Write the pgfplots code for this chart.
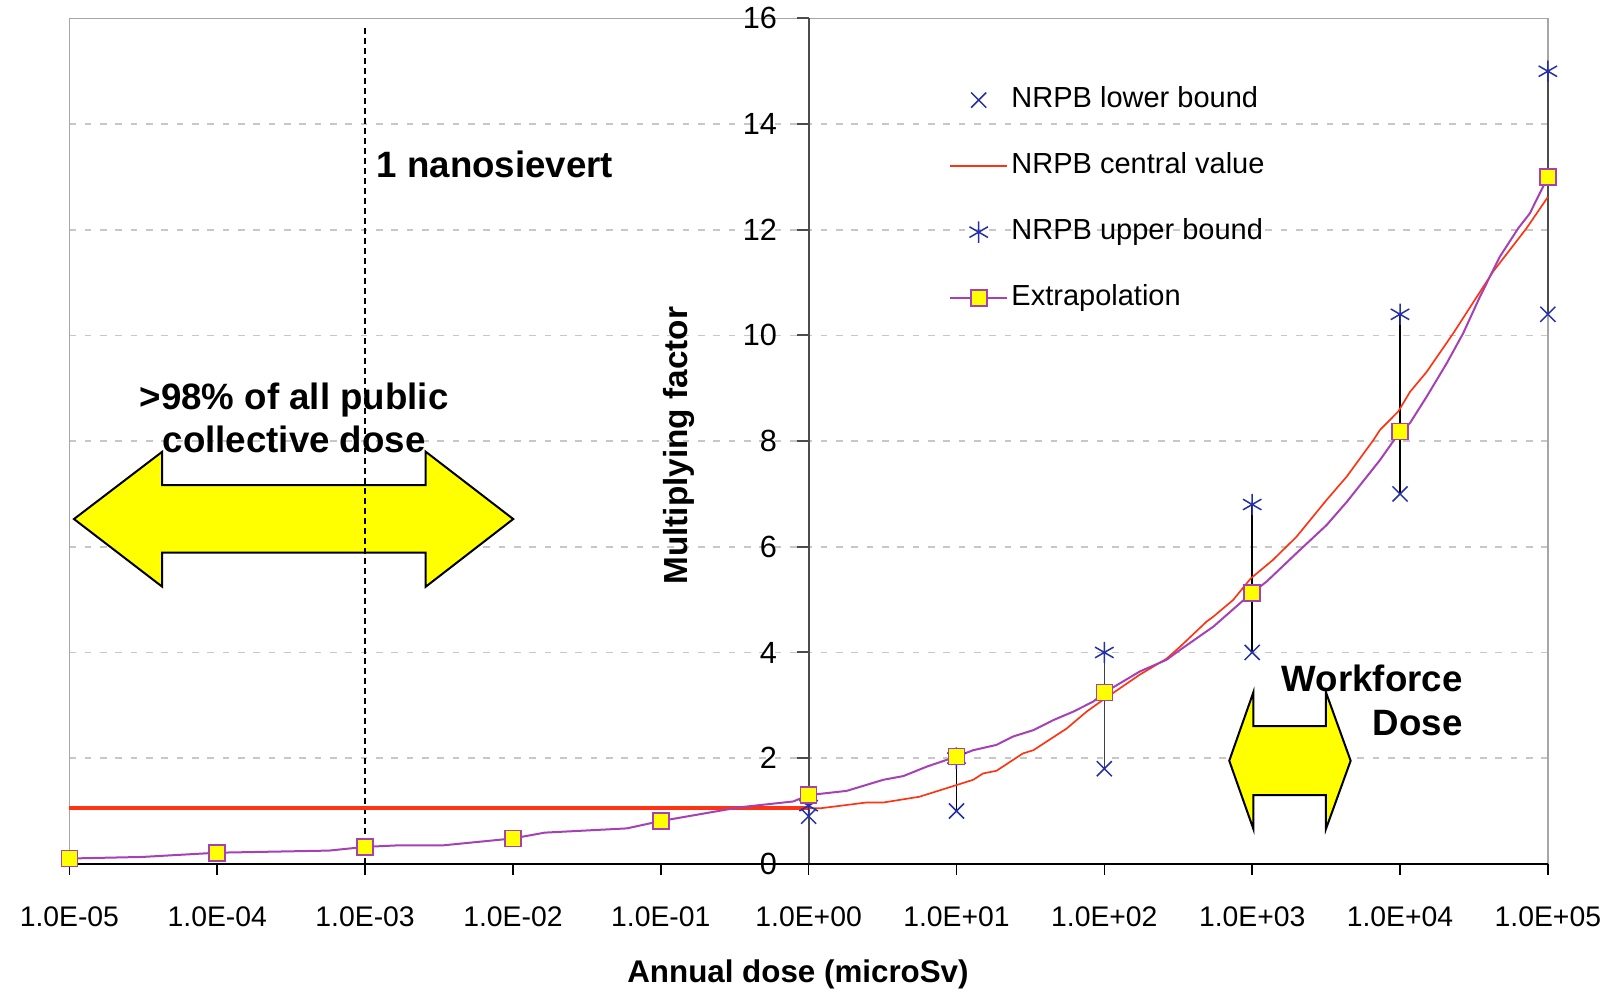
\documentclass[border=0pt]{standalone}
\usepackage{fontspec}
\setmainfont{Liberation Sans}
\usepackage{pgfplots}
\pgfplotsset{compat=1.18}
\usepackage{pgfplotstable}

\definecolor{nrpbblue}{RGB}{36,48,165}
\definecolor{nrpbred}{RGB}{255,51,17}
\definecolor{extrap}{RGB}{165,65,180}
\definecolor{arrowyellow}{RGB}{255,255,0}

% x is log10 of annual dose (microSv)
\pgfplotstableread{
lx y
-5 0.10
-4.506 0.13
-4 0.21
-3.244 0.25
-3 0.32
-2.77 0.35
-2.47 0.35
-2 0.48
-1.785 0.59
-1.23 0.67
-1 0.81
-0.465 1.07
-0.104 1.18
0 1.30
0.257 1.38
0.505 1.59
0.64 1.66
0.80 1.84
1.0 2.03
1.113 2.15
1.27 2.25
1.384 2.41
1.52 2.53
1.655 2.72
1.79 2.88
1.925 3.07
2.0 3.24
2.24 3.64
2.42 3.86
2.513 4.05
2.738 4.49
2.917 4.93
3.0 5.13
3.097 5.34
3.30 5.88
3.503 6.41
3.64 6.85
3.864 7.64
4.0 8.18
4.067 8.34
4.18 8.84
4.315 9.47
4.427 10.04
4.54 10.73
4.675 11.49
4.80 12.03
4.878 12.31
5.0 13.0
}\extrapline

\pgfplotstableread{
lx y
-5 0.10
-4 0.21
-3 0.32
-2 0.48
-1 0.81
0 1.30
1 2.03
2 3.24
3 5.13
4 8.18
5 13.0
}\extrapmarks

\pgfplotstableread{
lx y
0 1.05
0.077 1.05
0.39 1.16
0.505 1.16
0.617 1.21
0.75 1.27
1.0 1.49
1.113 1.59
1.18 1.71
1.27 1.76
1.45 2.09
1.52 2.15
1.745 2.56
1.88 2.88
1.99 3.10
2.24 3.58
2.42 3.88
2.513 4.11
2.69 4.58
2.738 4.68
2.87 4.99
2.99 5.40
3.14 5.75
3.30 6.19
3.503 6.885
3.64 7.33
3.82 8.02
3.864 8.21
3.988 8.56
4.067 8.93
4.18 9.31
4.36 10.04
4.63 11.21
4.856 12.03
5.0 12.62
}\central

\pgfplotstableread{
lx lo hi
0 0.9 1.1
1 1.0 2.0
2 1.8 4.0
3 4.0 6.8
4 7.0 10.4
5 10.4 15.0
}\bounds

\begin{document}
\begin{tikzpicture}
\useasboundingbox (-20.82pt,-39.06pt) rectangle (459.48pt,259.14pt);

% background: frame and grid
\begin{axis}[
  at={(0pt,0pt)}, anchor=south west,
  width=443.55pt, height=253.62pt, scale only axis,
  xmin=-5, xmax=5, ymin=0, ymax=16,
  axis line style={black!35, line width=0.5pt},
  xtick=\empty, ytick={2,4,...,14}, yticklabels={},
  major tick length=0pt, tick style={draw=none},
  ymajorgrids, grid style={black!22, dash pattern=on 2pt off 2.6pt, line width=0.5pt},
]
\end{axis}

% y axis at 1 microSv
\begin{axis}[
  at={(221.775pt,0pt)}, anchor=south west,
  width=221.775pt, height=253.62pt, scale only axis,
  xmin=0, xmax=1, ymin=0, ymax=16,
  axis y line=left, axis x line=none,
  y axis line style={-, black!70, line width=0.6pt},
  ytick={0,2,...,16}, tick align=outside, major tick length=3.5pt,
  tick style={black!70, line width=0.6pt},
  /pgf/number format/assume math mode=true,
  yticklabel style={font=\fontsize{9.2}{11}\selectfont, xshift=-2.5pt},
]
\end{axis}

% data axis
\begin{axis}[
  at={(0pt,0pt)}, anchor=south west,
  width=443.55pt, height=253.62pt, scale only axis,
  xmin=-5, xmax=5, ymin=0, ymax=16,
  axis x line=bottom, axis y line=none, clip=false,
  x axis line style={-, black, line width=0.6pt},
  xtick={-5,-4,...,5},
  xticklabels={1.0E-05,1.0E-04,1.0E-03,1.0E-02,1.0E-01,1.0E+00,1.0E+01,1.0E+02,1.0E+03,1.0E+04,1.0E+05},
  tick align=outside, major tick length=3.3pt,
  tick style={black, line width=0.5pt},
  xticklabel style={font=\fontsize{8.5}{10}\selectfont, yshift=-6pt},
  legend style={at={(axis cs:0.951,12.58)}, anchor=west, draw=none, fill=none,
    inner sep=0pt, outer sep=0pt, row sep=9.5pt,
    font=\fontsize{8.7}{10}\selectfont, cells={anchor=west},
    nodes={inner sep=1pt, text height=6.5pt, text depth=1.8pt}},
]

% big double arrow
\draw[black, line width=0.6pt, fill=arrowyellow]
  (axis cs:-4.969,6.525) -- (axis cs:-4.372,7.799) -- (axis cs:-4.372,7.169)
  -- (axis cs:-2.590,7.169) -- (axis cs:-2.590,7.799) -- (axis cs:-1.998,6.525)
  -- (axis cs:-2.590,5.244) -- (axis cs:-2.590,5.888) -- (axis cs:-4.372,5.888)
  -- (axis cs:-4.372,5.244) -- cycle;
% workforce arrow
\draw[black, line width=0.6pt, fill=arrowyellow]
  (axis cs:2.845,1.951) -- (axis cs:3.008,3.246) -- (axis cs:3.008,2.608)
  -- (axis cs:3.499,2.608) -- (axis cs:3.499,3.246) -- (axis cs:3.666,1.951)
  -- (axis cs:3.499,0.659) -- (axis cs:3.499,1.302) -- (axis cs:3.008,1.302)
  -- (axis cs:3.008,0.659) -- cycle;

\node[anchor=base, inner sep=0pt, font=\fontsize{11}{13}\selectfont\bfseries] at (axis cs:-3.48,8.60) {>98\% of all public};
\node[anchor=base, inner sep=0pt, font=\fontsize{11}{13}\selectfont\bfseries] at (axis cs:-3.48,7.78) {collective dose};
\node[anchor=base west, inner sep=0pt, font=\fontsize{11}{13}\selectfont\bfseries] at (axis cs:-2.926,12.98) {1 nanosievert};
\node[anchor=base east, inner sep=0pt, font=\fontsize{11}{13}\selectfont\bfseries] at (axis cs:4.428,3.257) {Workforce};
\node[anchor=base east, inner sep=0pt, font=\fontsize{11}{13}\selectfont\bfseries] at (axis cs:4.428,2.437) {Dose};

\node[rotate=90, inner sep=0pt, font=\fontsize{10}{12}\selectfont\bfseries] at (axis cs:-0.877,7.91) {Multiplying factor};
\node[inner sep=0pt, font=\fontsize{9.4}{11}\selectfont\bfseries] at (axis cs:-0.072,-2.10) {Annual dose (microSv)};

% 1 nanosievert line
\addplot[forget plot, black, line width=0.6pt, dash pattern=on 1.8pt off 1.2pt] coordinates {(-3,0) (-3,15.85)};

% high-low bars
\addplot[forget plot, black, line width=0.45pt] coordinates {(0,0.9) (0,1.1)};
\addplot[forget plot, black, line width=0.45pt] coordinates {(1,1.0) (1,2.0)};
\addplot[forget plot, black!75, line width=0.45pt] coordinates {(2,1.8) (2,4.0)};
\addplot[forget plot, black, line width=0.45pt] coordinates {(3,4.0) (3,6.8)};
\addplot[forget plot, black, line width=0.45pt] coordinates {(4,7.0) (4,10.4)};
\addplot[forget plot, black!70, line width=0.6pt] coordinates {(5,10.4) (5,15.0)};

% thick reference line at factor 1
\addplot[forget plot, nrpbred, line width=1.3pt] coordinates {(-5,1.05) (0,1.05)};

% NRPB central value
\addplot[forget plot, nrpbred, line width=0.5pt] table[x=lx, y=y] {\central};

% bounds
\addplot[forget plot, only marks, nrpbblue, mark=x, mark size=3.2pt, line width=0.45pt] table[x=lx, y=lo] {\bounds};
\addplot[forget plot, only marks, nrpbblue, mark=asterisk, mark size=3.2pt, line width=0.45pt] table[x=lx, y=hi] {\bounds};

% extrapolation
\addplot[forget plot, extrap, line width=0.6pt] table[x=lx, y=y] {\extrapline};
\addplot[forget plot, only marks, mark=square*, mark size=2.4pt, mark options={fill=arrowyellow, draw=extrap, line width=0.5pt}] table[x=lx, y=y] {\extrapmarks};

% legend
\addlegendimage{only marks, nrpbblue, mark=x, mark size=3.2pt, line width=0.45pt}
\addlegendentry{NRPB lower bound}
\addlegendimage{nrpbred, line width=0.5pt}
\addlegendentry{NRPB central value}
\addlegendimage{only marks, nrpbblue, mark=asterisk, mark size=3.2pt, line width=0.45pt}
\addlegendentry{NRPB upper bound}
\addlegendimage{extrap, line width=0.6pt, mark=square*, mark size=2.4pt, mark options={fill=arrowyellow, draw=extrap, line width=0.5pt}}
\addlegendentry{Extrapolation}
\end{axis}
\end{tikzpicture}
\end{document}
